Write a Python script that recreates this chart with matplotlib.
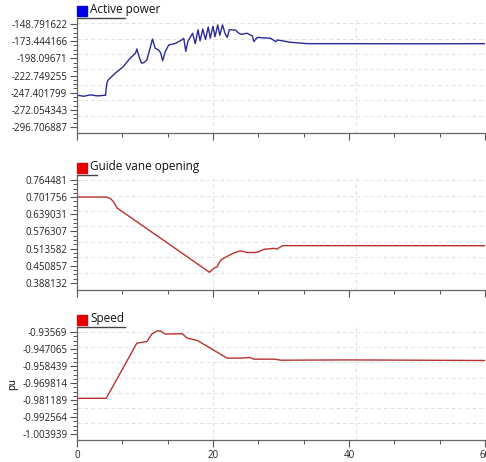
import matplotlib
matplotlib.use('Agg')
import matplotlib.pyplot as plt
import numpy as np

plt.rcParams['font.family'] = ['Open Sans', 'DejaVu Sans']

# 有功功率
t_power = [0, 1, 2, 3, 4.2, 4.4, 4.6, 5.6, 6.8, 7.8, 8.6, 8.8, 9.2, 9.5, 9.9, 10.3,
           11.1, 11.5, 12.0, 12.3, 12.6, 13.0, 13.5, 14.5, 15.4, 15.7, 16.0, 16.3,
           17.0, 17.4, 17.8, 18.1, 18.5, 18.9, 19.3, 19.6, 20.0, 20.3, 20.7, 21.0,
           21.4, 21.8, 22.1, 22.4, 23.3, 23.8, 24.2, 25.0, 25.8, 26.0, 26.5, 28.5,
           29.2, 29.5, 31.4, 33.9, 40, 50, 60]
power = [-251, -252.5, -250.5, -252, -251, -233, -229, -219.5, -210, -198, -190.8, -184.6,
         -198, -205, -204, -200, -170.3, -183.6, -186, -190, -201.4, -188, -178.9, -176.5,
         -171.7, -169.3, -188, -174, -162, -177, -157, -173, -156, -171, -153, -169,
         -152, -167, -150, -165, -150, -163, -168, -157, -157.4, -162, -163.6, -162,
         -166, -174, -168, -169.3, -174, -171.7, -175, -177, -177, -177.2, -177]

# 导叶开度
t_vane = [0, 4.4, 5.0, 5.5, 5.9, 19.5, 19.8, 20.2, 20.6, 21.1, 21.6, 22.6, 23.3, 24.0,
          24.5, 25.0, 26.5, 27.5, 28.9, 29.4, 30.2, 30.5, 60]
vane = [0.7018, 0.7018, 0.695, 0.680, 0.662, 0.427, 0.435, 0.443, 0.447, 0.470, 0.479,
        0.492, 0.500, 0.505, 0.503, 0.499, 0.500, 0.511, 0.5146, 0.512, 0.524, 0.5245, 0.5241]

# 转速
t_speed = [0, 4.3, 8.8, 10.3, 11.0, 11.8, 12.3, 13.0, 15.5, 16.2, 17.7, 19.6, 21.1,
           22.1, 24, 25.5, 26.0, 29, 30, 40, 60]
speed = [-0.9800, -0.9800, -0.9431, -0.9420, -0.9370, -0.9348, -0.9350, -0.9370, -0.9368,
         -0.9397, -0.9413, -0.9464, -0.9505, -0.9531, -0.9531, -0.9527, -0.9538, -0.9538,
         -0.9545, -0.9543, -0.9547]

power_ticks = ['-148.791622', '-173.444166', '-198.09671', '-222.749255',
               '-247.401799', '-272.054343', '-296.706887']
vane_ticks = ['0.764481', '0.701756', '0.639031', '0.576307', '0.513582', '0.450857', '0.388132']
speed_ticks = ['-0.93569', '-0.947065', '-0.958439', '-0.969814', '-0.981189',
               '-0.992564', '-1.003939']

titles = ['Active power', 'Guide vane opening', 'Speed']
line_colors = ['#2a2a9c', '#b8312f', '#b8312f']
box_colors = ['#0000e6', '#e60000', '#e60000']

fig = plt.figure(figsize=(4.86, 4.62), dpi=100)
rects = [[0.1584, 0.712, 0.8395, 0.249],
         [0.1584, 0.3723, 0.8395, 0.249],
         [0.1584, 0.0476, 0.8395, 0.2446]]
margins = [(0.35, 0.35), (0.41, 0.29), (0.35, 0.30)]
under_len = [0.118, 0.049, 0.118]

series = [(t_power, power, power_ticks), (t_vane, vane, vane_ticks), (t_speed, speed, speed_ticks)]

for i, (tx, vy, labels) in enumerate(series):
    ax = fig.add_axes(rects[i])
    ax.plot(tx, vy, color=line_colors[i], lw=1.0)
    tv = [float(s) for s in labels]
    step = abs(tv[0] - tv[1])
    ax.set_ylim(min(tv) - margins[i][0] * step, max(tv) + margins[i][1] * step)
    ax.set_yticks(tv)
    ax.set_yticklabels(labels)
    ax.set_yticks(np.arange(min(tv), max(tv) + step / 8, step / 4), minor=True)
    ax.set_xlim(0, 60)
    ax.set_xticks([0, 20, 40, 60])
    ax.set_xticks(np.arange(0, 60.1, 20 / 3), minor=True)
    if i < 2:
        ax.set_xticklabels([])
    ax.tick_params(axis='both', which='major', length=5, width=0.8, color='#555555',
                   labelsize=7, labelcolor='#222222', pad=2)
    ax.tick_params(axis='both', which='minor', length=3, width=0.7, color='#555555')
    for sp in ['top', 'right']:
        ax.spines[sp].set_visible(False)
    for sp in ['left', 'bottom']:
        ax.spines[sp].set_color('#666666')
        ax.spines[sp].set_linewidth(0.9)

    # dashed grid
    for f in np.linspace(0.955, 0.15, 7):
        ax.plot([0, 1], [f, f], transform=ax.transAxes, color='#e2e2e2', lw=0.7,
                ls=(0, (4, 3)), zorder=0)
    for xv in [20, 41]:
        ax.axvline(xv, color='#e2e2e2', lw=0.7, ls=(0, (4, 3)), zorder=0)

    # title box
    ax.plot([0, under_len[i]], [1.0, 1.0], transform=ax.transAxes, color='#444444',
            lw=1.0, clip_on=False)
    ax.plot([0.012], [1.06], marker='s', ms=7, color=box_colors[i],
            transform=ax.transAxes, clip_on=False)
    ax.text(0.032, 1.075, titles[i], transform=ax.transAxes, fontsize=8.5, va='center',
            ha='left', color='#111111')

    if i == 2:
        ax.set_ylabel('pu', fontsize=7, labelpad=3)

fig.savefig('out.png', dpi=100)
